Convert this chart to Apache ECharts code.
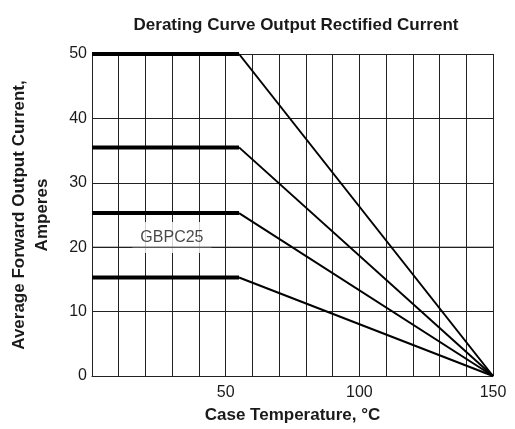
<!DOCTYPE html>
<html>
<head>
<meta charset="utf-8">
<script src="https://cdn.jsdelivr.net/npm/echarts@6/dist/echarts.min.js"></script>
<style>
html,body{margin:0;padding:0;background:#fff;}
#c{width:515px;height:429px;}
</style>
</head>
<body>
<div id="c"></div>
<script>
// Derating curves: flat current up to knee temperature, then linear to 0 at 150 °C
const curveNames = ['50A', '35A', '25A', '15A'];
const flatCurrent = [50, 35.5, 25.3, 15.3];
const kneeTemp = 55;
const zeroTemp = 150;
const xTickLabels = [50, 100, 150];
const yTicks = [0, 10, 20, 30, 40, 50];
const annotation = { text: 'GBPC25', x: 29.9, y: 21.5 };

const FONT = '"Liberation Sans", Arial, sans-serif';
const INK = '#1a1a1a';
const GRID = '#222';

const series = [];
flatCurrent.forEach((v, i) => {
  series.push({
    name: curveNames[i] + ' flat', type: 'line', symbol: 'none', z: 5,
    lineStyle: { color: '#000', width: 4 },
    data: [[0, v], [kneeTemp, v]]
  });
  series.push({
    name: curveNames[i] + ' slope', type: 'line', symbol: 'none', z: 5,
    lineStyle: { color: '#000', width: 2 },
    data: [[kneeTemp, v], [zeroTemp, 0]]
  });
});
// annotation label with white box
series.push({
  type: 'scatter', symbolSize: 0, z: 3, silent: true,
  data: [[annotation.x, annotation.y]],
  label: {
    show: true, position: 'inside', formatter: annotation.text,
    color: INK, fontFamily: FONT, fontSize: 16,
    backgroundColor: '#fff', padding: [3, 8, 12, 8]
  }
});
// redraw the gridline at 20 over the annotation box
series.push({
  type: 'line', symbol: 'none', z: 4, silent: true,
  lineStyle: { color: GRID, width: 1 },
  data: [[0, 20], [zeroTemp, 20]]
});

const chart = echarts.init(document.getElementById('c'), null, { renderer: 'canvas' });
chart.setOption({
  animation: false,
  backgroundColor: '#fff',
  title: {
    text: 'Derating Curve Output Rectified Current',
    left: 291, top: 12, textAlign: 'center',
    textStyle: { fontFamily: FONT, fontSize: 17, fontWeight: 'bold', color: INK }
  },
  grid: { left: 92, right: 22, top: 54, bottom: 53, containLabel: false, outerBoundsMode: 'none' },
  xAxis: {
    type: 'value', min: 0, max: 150, interval: 10,
    name: 'Case Temperature, °C', nameLocation: 'middle', nameGap: 31,
    nameTextStyle: { fontFamily: FONT, fontSize: 17, fontWeight: 'bold', color: INK },
    axisLine: { show: true, lineStyle: { color: GRID, width: 1 } },
    axisTick: { show: false },
    axisLabel: {
      fontFamily: FONT, fontSize: 16, color: INK, margin: 9,
      formatter: v => xTickLabels.includes(v) ? String(v) : ''
    },
    splitLine: { show: true, lineStyle: { color: GRID, width: 1 } }
  },
  yAxis: {
    type: 'value', min: 0, max: 50, interval: 10,
    name: 'Average Forward Output Current,\nAmperes', nameLocation: 'middle', nameGap: 38, nameRotate: 90,
    nameTextStyle: { fontFamily: FONT, fontSize: 17, fontWeight: 'bold', color: INK, lineHeight: 23 },
    axisLine: { show: true, lineStyle: { color: GRID, width: 1 } },
    axisTick: { show: false },
    axisLabel: {
      fontFamily: FONT, fontSize: 16, color: INK, margin: 5,
      formatter: v => yTicks.includes(v) ? String(v) : ''
    },
    splitLine: { show: true, lineStyle: { color: GRID, width: 1 } }
  },
  series: series
});
</script>
</body>
</html>
